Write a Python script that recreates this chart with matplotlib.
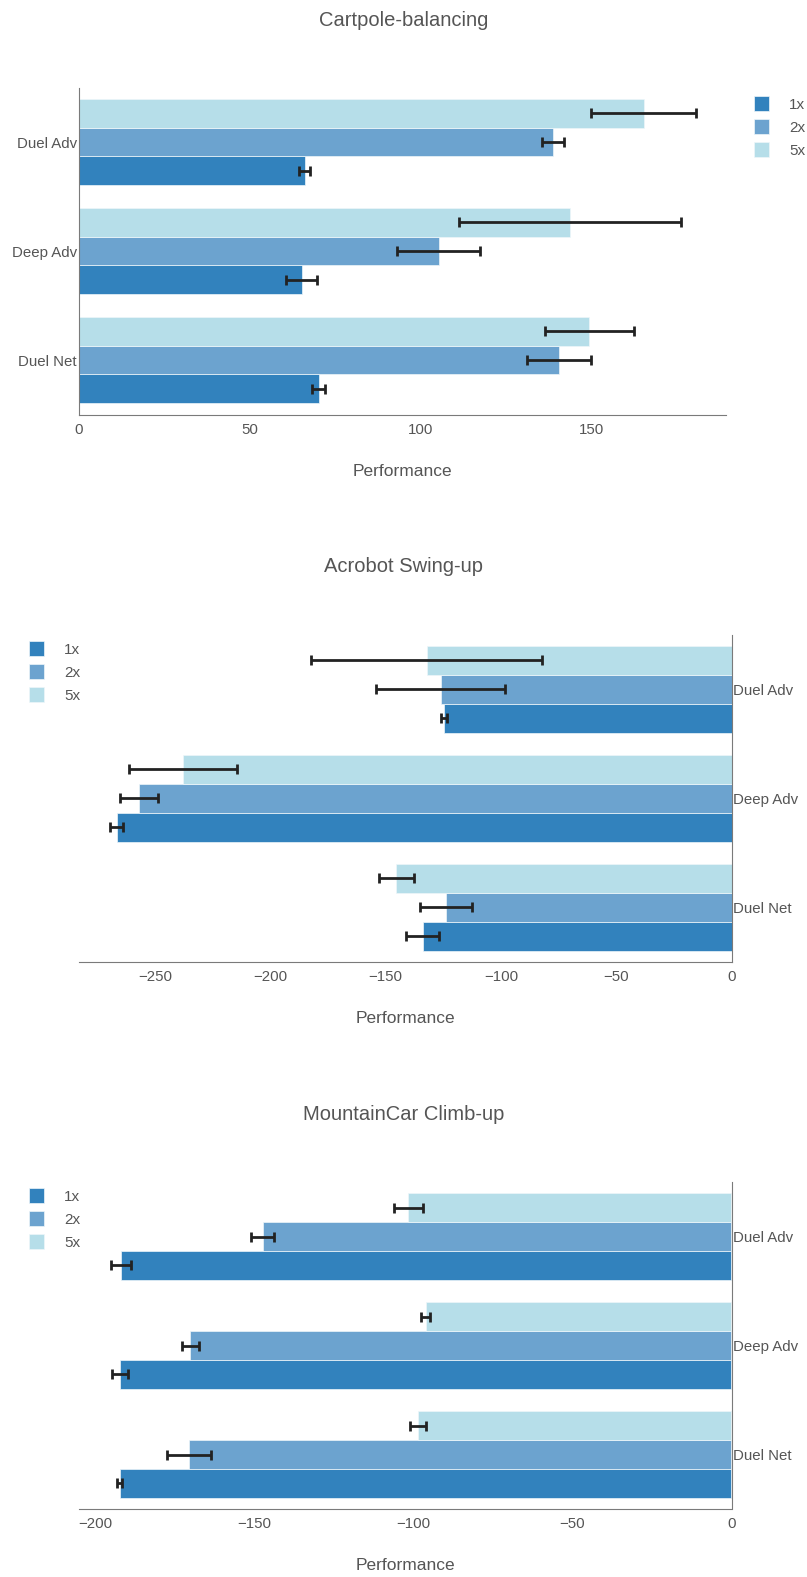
import matplotlib
matplotlib.use("Agg")
import matplotlib.pyplot as plt
import numpy as np

plt.rcParams["font.family"] = ["Liberation Sans", "DejaVu Sans"]

# categories from bottom to top
methods = ["Duel Net", "Deep Adv", "Duel Adv"]
speeds = ["1x", "2x", "5x"]
colors = ["#3282bd", "#6ca3cf", "#b6dee9"]

# Cartpole-balancing (mean, err) per speed, order follows methods
cart_mean = {"1x": [70.2, 65.2, 66.1], "2x": [140.4, 105.3, 138.6], "5x": [149.3, 143.7, 165.2]}
cart_err = {"1x": [1.9, 4.4, 1.5], "2x": [9.4, 12.2, 3.2], "5x": [13.0, 32.5, 15.3]}

# Acrobot Swing-up
acro_mean = {"1x": [-134.0, -266.6, -124.8], "2x": [-123.9, -257.0, -126.1], "5x": [-145.3, -237.8, -132.2]}
acro_err = {"1x": [7.0, 2.8, 1.3], "2x": [11.3, 8.3, 28.0], "5x": [7.4, 23.3, 50.0]}

# MountainCar Climb-up
mcar_mean = {"1x": [-192.4, -192.4, -192.1], "2x": [-170.6, -170.3, -147.5], "5x": [-98.7, -96.2, -101.6]}
mcar_err = {"1x": [0.8, 2.5, 3.2], "2x": [7.0, 2.7, 3.5], "5x": [2.5, 1.4, 4.7]}

W, H = 807, 1577
TXT = "#555555"
AXC = "#7a7a7a"

fig = plt.figure(figsize=(W / 100, H / 100), dpi=100)


def panel(rect, means, errs, xlim, xticks, right_side, title, title_y, xlabel_y, leg_xy):
    ax = fig.add_axes(rect)
    y = np.arange(len(methods))
    bh = 0.265
    handles = []
    for i, s in enumerate(speeds):
        b = ax.barh(y + (i - 1) * bh, means[s], height=bh, color=colors[i],
                    edgecolor="#eef6fa", linewidth=0.5,
                    xerr=errs[s], error_kw=dict(ecolor="#222222", elinewidth=2, capsize=3.5, capthick=2),
                    label=s, zorder=2)
        handles.append(b)
    ax.set_xlim(*xlim)
    ax.set_ylim(-0.5, 2.5)
    ax.set_xticks(xticks)
    ax.set_xticklabels([f"{t:g}".replace("-", "\u2212") for t in xticks])
    ax.set_yticks(y)
    ax.set_yticklabels(methods)
    ax.tick_params(length=0, colors=TXT, labelsize=10.8)
    ax.tick_params(axis="x", pad=6)
    ax.tick_params(axis="y", pad=1)
    for sp in ax.spines.values():
        sp.set_visible(False)
    ax.spines["bottom"].set_visible(True)
    ax.spines["bottom"].set_color(AXC)
    if right_side:
        ax.yaxis.tick_right()
        ax.spines["right"].set_visible(True)
        ax.spines["right"].set_color(AXC)
    else:
        ax.spines["left"].set_visible(True)
        ax.spines["left"].set_color(AXC)
    fig.text(0.5, 1 - title_y / H, title, ha="center", va="center", fontsize=14.5, color=TXT)
    cx = rect[0] + rect[2] / 2
    fig.text(cx, 1 - xlabel_y / H, "Performance", ha="center", va="center", fontsize=12.5, color=TXT)
    fig.legend(handles=handles, labels=speeds, loc="upper left",
               bbox_to_anchor=(leg_xy[0] / W, 1 - leg_xy[1] / H), frameon=False,
               handlelength=1.0, handleheight=1.1, handletextpad=1.3, labelspacing=0.5,
               fontsize=11, labelcolor=TXT, borderaxespad=0, borderpad=0)
    return ax


panel([78.5 / W, 1 - 414.5 / H, 647.5 / W, 327 / H], cart_mean, cart_err,
      (0, 189.3), [0, 50, 100, 150], False, "Cartpole-balancing", 20, 471, (754, 96))
panel([78.5 / W, 1 - 961.7 / H, 653 / W, 327 / H], acro_mean, acro_err,
      (-283.2, 0), [-250, -200, -150, -100, -50, 0], True, "Acrobot Swing-up", 567, 1018, (29, 641))
panel([78.5 / W, 1 - 1509 / H, 653 / W, 327 / H], mcar_mean, mcar_err,
      (-205.4, 0), [-200, -150, -100, -50, 0], True, "MountainCar Climb-up", 1115, 1566, (29, 1188))

fig.savefig("out.png", dpi=100)
